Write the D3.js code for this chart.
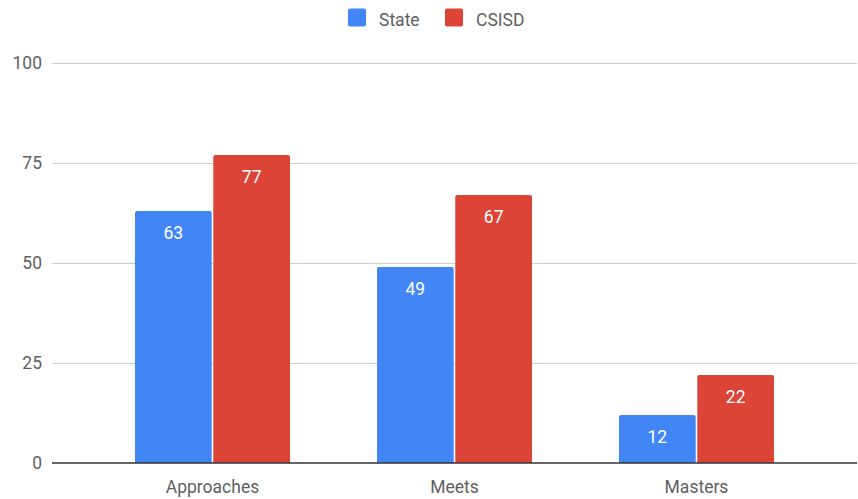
<!DOCTYPE html>
<html>
<head>
<meta charset="utf-8">
<script src="https://cdn.jsdelivr.net/npm/d3@7"></script>
<style>
  html, body { margin: 0; padding: 0; background: #fff; }
  svg { display: block; font-family: Roboto, "Noto Sans", sans-serif; }
</style>
</head>
<body>
<svg id="chart" width="858" height="499"></svg>
<script>
const categories = ["Approaches", "Meets", "Masters"];
const seriesNames = ["State", "CSISD"];
const stateValues = [63, 49, 12];
const csisdValues = [77, 67, 22];
const yTicks = [0, 25, 50, 75, 100];
const colors = ["#4285F4", "#DB4437"];

const svg = d3.select("#chart");
const plotLeft = 52, plotRight = 857, plotTop = 63, plotBottom = 463;

const x0 = d3.scaleBand().domain(categories).range([plotLeft, plotRight])
  .paddingInner(0.3595).paddingOuter(0.343);
const x1 = d3.scaleBand().domain(seriesNames).range([0, x0.bandwidth()]).paddingInner(0.02);
const y = d3.scaleLinear().domain([0, 100]).range([plotBottom, plotTop]);

// gridlines
svg.append("g").selectAll("line").data(yTicks.filter(d => d !== 0)).join("line")
  .attr("x1", plotLeft).attr("x2", plotRight)
  .attr("y1", d => y(d) + 0.5).attr("y2", d => y(d) + 0.5)
  .attr("stroke", "#cccccc").attr("stroke-width", 1);

// y tick labels
svg.append("g").selectAll("text").data(yTicks).join("text")
  .attr("x", 42).attr("y", d => y(d)).attr("dy", "0.36em")
  .attr("text-anchor", "end").attr("font-size", 17.5).attr("fill", "#5f5f5f")
  .text(d => d);

const data = categories.map((c, i) => ({ cat: c, vals: [stateValues[i], csisdValues[i]] }));

const groups = svg.append("g").selectAll("g").data(data).join("g")
  .attr("transform", d => `translate(${x0(d.cat)},0)`);

groups.selectAll("path").data(d => d.vals.map((v, j) => ({ name: seriesNames[j], v, j }))).join("path")
  .attr("d", d => {
    const x = x1(d.name), w = x1.bandwidth(), yt = y(d.v), yb = y(0), r = 2;
    return `M${x},${yb}V${yt + r}Q${x},${yt} ${x + r},${yt}H${x + w - r}Q${x + w},${yt} ${x + w},${yt + r}V${yb}Z`;
  })
  .attr("fill", d => colors[d.j]);

groups.selectAll("text").data(d => d.vals.map((v, j) => ({ name: seriesNames[j], v, j }))).join("text")
  .attr("x", d => x1(d.name) + x1.bandwidth() / 2)
  .attr("y", d => y(d.v) + 28)
  .attr("text-anchor", "middle").attr("font-size", 17.5).attr("fill", "#fff")
  .text(d => d.v);

// baseline
svg.append("line").attr("x1", plotLeft).attr("x2", plotRight)
  .attr("y1", y(0)).attr("y2", y(0))
  .attr("stroke", "#333").attr("stroke-width", 1.5);

// x labels
svg.append("g").selectAll("text").data(categories).join("text")
  .attr("x", d => x0(d) + x0.bandwidth() / 2).attr("y", 493)
  .attr("text-anchor", "middle").attr("font-size", 17.5).attr("fill", "#5f5f5f")
  .text(d => d);

// legend
const legendX = [348, 445];
const lg = svg.append("g").selectAll("g").data(seriesNames).join("g")
  .attr("transform", (d, i) => `translate(${legendX[i]},8.5)`);
lg.append("rect").attr("width", 18).attr("height", 18).attr("rx", 2)
  .attr("fill", (d, i) => colors[i]);
lg.append("text").attr("x", 31).attr("y", 17.5)
  .attr("font-size", 17.5).attr("fill", "#5f5f5f").text(d => d);
</script>
</body>
</html>
